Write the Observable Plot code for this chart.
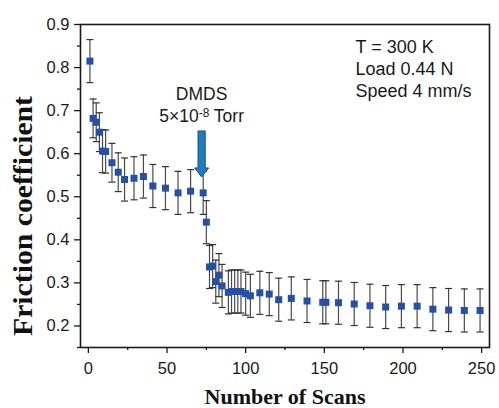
<!DOCTYPE html>
<html><head><meta charset="utf-8">
<script src="https://cdn.jsdelivr.net/npm/d3@7"></script>
<script src="https://cdn.jsdelivr.net/npm/@observablehq/plot@0.6"></script>
<style>body{margin:0;background:#fff} svg{display:block}</style>
</head><body><div id="chart"></div>
<script>
// ---- data ----
const scans = [1,3,5,7,9,11,15,19,23,29,35,41,49,57,65,73,75,77,79,81,83,85,89,91,93,95,97,100,103,109,115,121,129,139,149,151,159,169,179,189,199,209,219,229,239,249];
const friction = [0.815,0.682,0.673,0.650,0.606,0.605,0.579,0.557,0.540,0.543,0.547,0.525,0.520,0.509,0.513,0.509,0.441,0.337,0.339,0.303,0.318,0.293,0.278,0.280,0.280,0.280,0.280,0.275,0.270,0.277,0.274,0.261,0.264,0.258,0.255,0.255,0.254,0.251,0.247,0.244,0.246,0.246,0.239,0.237,0.236,0.236];
const errors = [0.05,0.045,0.045,0.045,0.05,0.05,0.045,0.045,0.05,0.05,0.05,0.05,0.05,0.05,0.05,0.05,0.05,0.05,0.05,0.05,0.05,0.05,0.05,0.05,0.05,0.05,0.05,0.05,0.05,0.05,0.05,0.05,0.05,0.05,0.05,0.05,0.05,0.05,0.05,0.05,0.05,0.05,0.05,0.05,0.05,0.05];
const xTicks = [0,50,100,150,200,250];
const xMinorTicks = [25,75,125,175,225];
const yTicks = [0.2,0.3,0.4,0.5,0.6,0.7,0.8,0.9];
const yMinorTicks = [0.15,0.25,0.35,0.45,0.55,0.65,0.75,0.85];
const conditions = ["T = 300 K","Load 0.44 N","Speed 4 mm/s"];
const dosingGas = "DMDS";
const dosingPressure = ["5×10", "-8", " Torr"]; // mantissa, exponent, unit
const arrowScan = [72];
const arrowTip = [0.546];

const data = scans.map((s,i)=>({scan:s, mu:friction[i], lo:friction[i]-errors[i], hi:friction[i]+errors[i]}));
const arrow = arrowScan.map((s,i)=>({scan:s, tip:arrowTip[i]}));

const cap = {draw(ctx){ ctx.moveTo(-3.5,0); ctx.lineTo(3.5,0); }};
const blockArrow = {draw(ctx){
  ctx.moveTo(0,0); ctx.lineTo(-7,-9); ctx.lineTo(-3.6,-9); ctx.lineTo(-3.6,-46);
  ctx.lineTo(3.6,-46); ctx.lineTo(3.6,-9); ctx.lineTo(7,-9); ctx.closePath();
}};

const sans = "'Liberation Sans', Arial, sans-serif";
const serif = "'Liberation Serif', 'Times New Roman', serif";

const chart = Plot.plot({
  width: 499, height: 408,
  marginLeft: 80, marginRight: 10, marginTop: 24, marginBottom: 61,
  style: {fontFamily: sans, fontSize: "16.5px", color: "#1a1a1a", background: "#fff"},
  x: {domain: [-5, 255]},
  y: {domain: [0.15, 0.9]},
  marks: [
    Plot.ruleX(data, {x:"scan", y1:"lo", y2:"hi", stroke:"#4a4a4a", strokeWidth:1.2}),
    Plot.dot(data, {x:"scan", y:"lo", symbol:cap, r:4, fill:"none", stroke:"#333", strokeWidth:1.2}),
    Plot.dot(data, {x:"scan", y:"hi", symbol:cap, r:4, fill:"none", stroke:"#333", strokeWidth:1.2}),
    Plot.dot(data, {x:"scan", y:"mu", symbol:"square", r:3.95, fill:"#2450a8", stroke:"none"}),
    Plot.dot(arrow, {x:"scan", y:"tip", symbol:blockArrow, r:5, fill:"#1f7cc0", stroke:"#1a4f82", strokeWidth:1}),
    Plot.text([dosingGas], {x: () => arrowScan[0], frameAnchor:"top", dy:75.3, lineAnchor:"bottom", fontSize:17.5, fill:"#1a1a1a"}),
    Plot.text([dosingPressure.join("")], {x: () => arrowScan[0], frameAnchor:"top", dy:97.7, lineAnchor:"bottom", fontSize:17.5, fill:"#1a1a1a"}),
    Plot.text([conditions.join("\n")], {frameAnchor:"top-left", dx:275, dy:12.5, lineAnchor:"top", textAnchor:"start", lineHeight:1.22, fontSize:18, fill:"#1a1a1a"}),
    Plot.axisX({ticks:xTicks, tickSize:6, tickPadding:9, strokeWidth:1.3, label:null, tickFormat:d=>String(d)}),
    Plot.axisX({ticks:xMinorTicks, tickSize:3, strokeWidth:1.3, label:null, text:null}),
    Plot.axisY({ticks:yTicks, tickSize:6, tickPadding:5, strokeWidth:1.3, label:null, tickFormat:d=>d.toFixed(1)}),
    Plot.axisY({ticks:yMinorTicks, tickSize:3, strokeWidth:1.3, label:null, text:null}),
    Plot.frame({stroke:"#1a1a1a", strokeWidth:1.6}),
    Plot.text(["Number of Scans"], {frameAnchor:"bottom", dy:49, lineAnchor:"middle", fontFamily:serif, fontWeight:"bold", fontSize:22, fill:"#111"}),
    Plot.text(["Friction coefficient"], {frameAnchor:"left", dx:-57, dy:150, rotate:-90, textAnchor:"start", lineAnchor:"middle", fontFamily:serif, fontWeight:"bold", fontSize:28, fill:"#111"})
  ]
});
document.getElementById("chart").appendChild(chart);
const svg = d3.select(chart);
svg.selectAll("text").filter(function(){ return this.textContent === "Friction coefficient"; })
  .attr("textLength", 240).attr("lengthAdjust", "spacingAndGlyphs");
// render the exponent of the pressure as a real superscript
svg.selectAll("text").filter(function(){ return this.textContent === dosingPressure.join(""); })
  .each(function(){
    const t = d3.select(this);
    t.text(null);
    t.append("tspan").text(dosingPressure[0]);
    t.append("tspan").attr("dy", "-0.45em").attr("font-size", "0.68em").text(dosingPressure[1]);
    t.append("tspan").attr("dy", "0.306em").text(dosingPressure[2]);
  });
</script>
</body></html>
